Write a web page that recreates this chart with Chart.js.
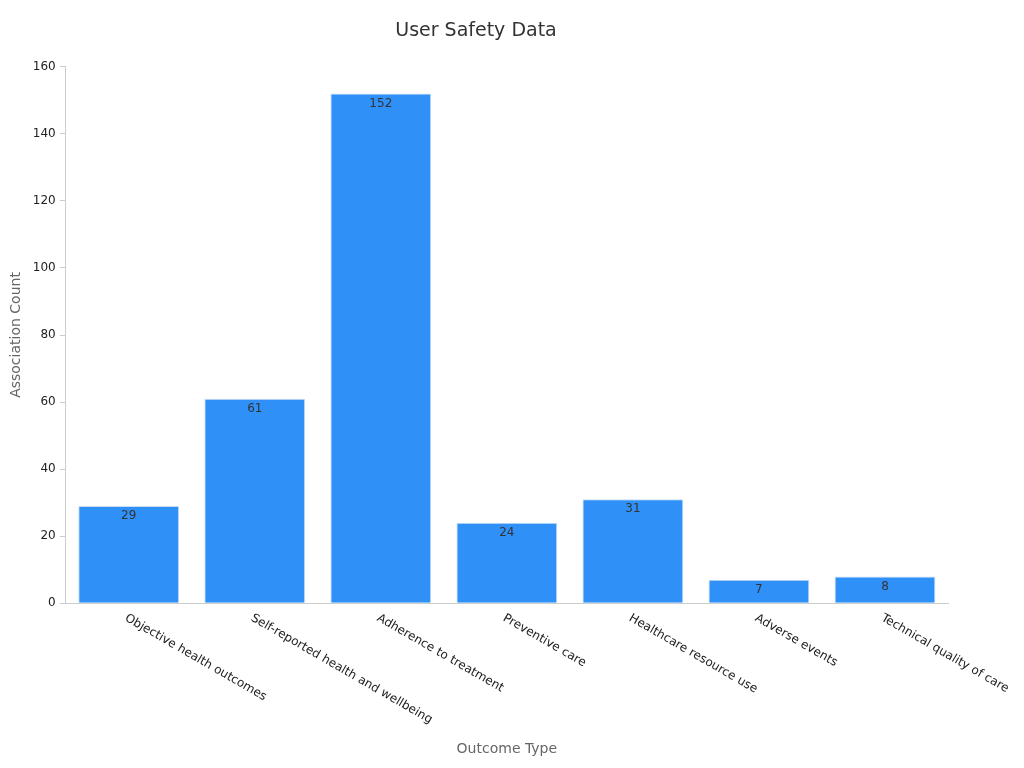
<!DOCTYPE html>
<html><head><meta charset="utf-8">
<script src="https://cdn.jsdelivr.net/npm/chart.js@4"></script>
<style>html,body{margin:0;padding:0;background:#fff}#w{width:1024px;height:768px}</style>
</head><body><div id="w"><canvas id="c"></canvas></div>
<script>
const categories = ["Objective health outcomes","Self-reported health and wellbeing","Adherence to treatment","Preventive care","Healthcare resource use","Adverse events","Technical quality of care"];
const counts = [29, 61, 152, 24, 31, 7, 8];
const yTicks = [0,20,40,60,80,100,120,140,160];
const FONT = "'DejaVu Sans', sans-serif";

const labelPlugin = {
  id: 'labels',
  afterDatasetsDraw(chart) {
    const ctx = chart.ctx, meta = chart.getDatasetMeta(0), xs = chart.scales.x;
    ctx.save();
    ctx.font = "12px " + FONT;
    ctx.fillStyle = '#333';
    ctx.textAlign = 'center'; ctx.textBaseline = 'top';
    meta.data.forEach((bar, i) => ctx.fillText(String(counts[i]), bar.x, bar.y + 4));
    ctx.fillStyle = '#222'; ctx.textAlign = 'left'; ctx.textBaseline = 'middle';
    categories.forEach((c, i) => {
      const x = xs.getPixelForValue(i), y = xs.top + 14;
      ctx.save(); ctx.translate(x - 3, y); ctx.rotate(Math.PI / 6);
      ctx.fillText(c, 0, 0); ctx.restore();
    });
    ctx.restore();
  }
};

new Chart(document.getElementById('c'), {
  type: 'bar',
  data: { labels: categories, datasets: [{ data: counts, backgroundColor: '#2f91f8', borderColor: '#c9dcf0', borderWidth: 1, categoryPercentage: 0.8, barPercentage: 1 }] },
  options: {
    responsive: true, maintainAspectRatio: false, animation: false,
    layout: { padding: { left: 4, right: 76, top: 10, bottom: 6 } },
    plugins: {
      legend: { display: false }, tooltip: { enabled: false },
      title: { display: true, text: 'User Safety Data', color: '#333', font: { family: FONT, size: 19, weight: 'normal' }, padding: { top: 10, bottom: 24 } }
    },
    scales: {
      x: {
        grid: { display: false }, border: { color: '#ccc' },
        ticks: { display: false },
        title: { display: true, text: 'Outcome Type', color: '#666', font: { family: FONT, size: 14 }, padding: { top: 130 } }
      },
      y: {
        min: 0, max: 160,
        afterBuildTicks(s) { s.ticks = yTicks.map(v => ({ value: v })); },
        grid: { drawOnChartArea: false, tickLength: 6, color: '#ccc' }, border: { color: '#ccc' },
        ticks: { color: '#222', font: { family: FONT, size: 12 }, padding: 4 },
        title: { display: true, text: 'Association Count', color: '#666', font: { family: FONT, size: 14 } }
      }
    }
  },
  plugins: [labelPlugin]
});
</script></body></html>
